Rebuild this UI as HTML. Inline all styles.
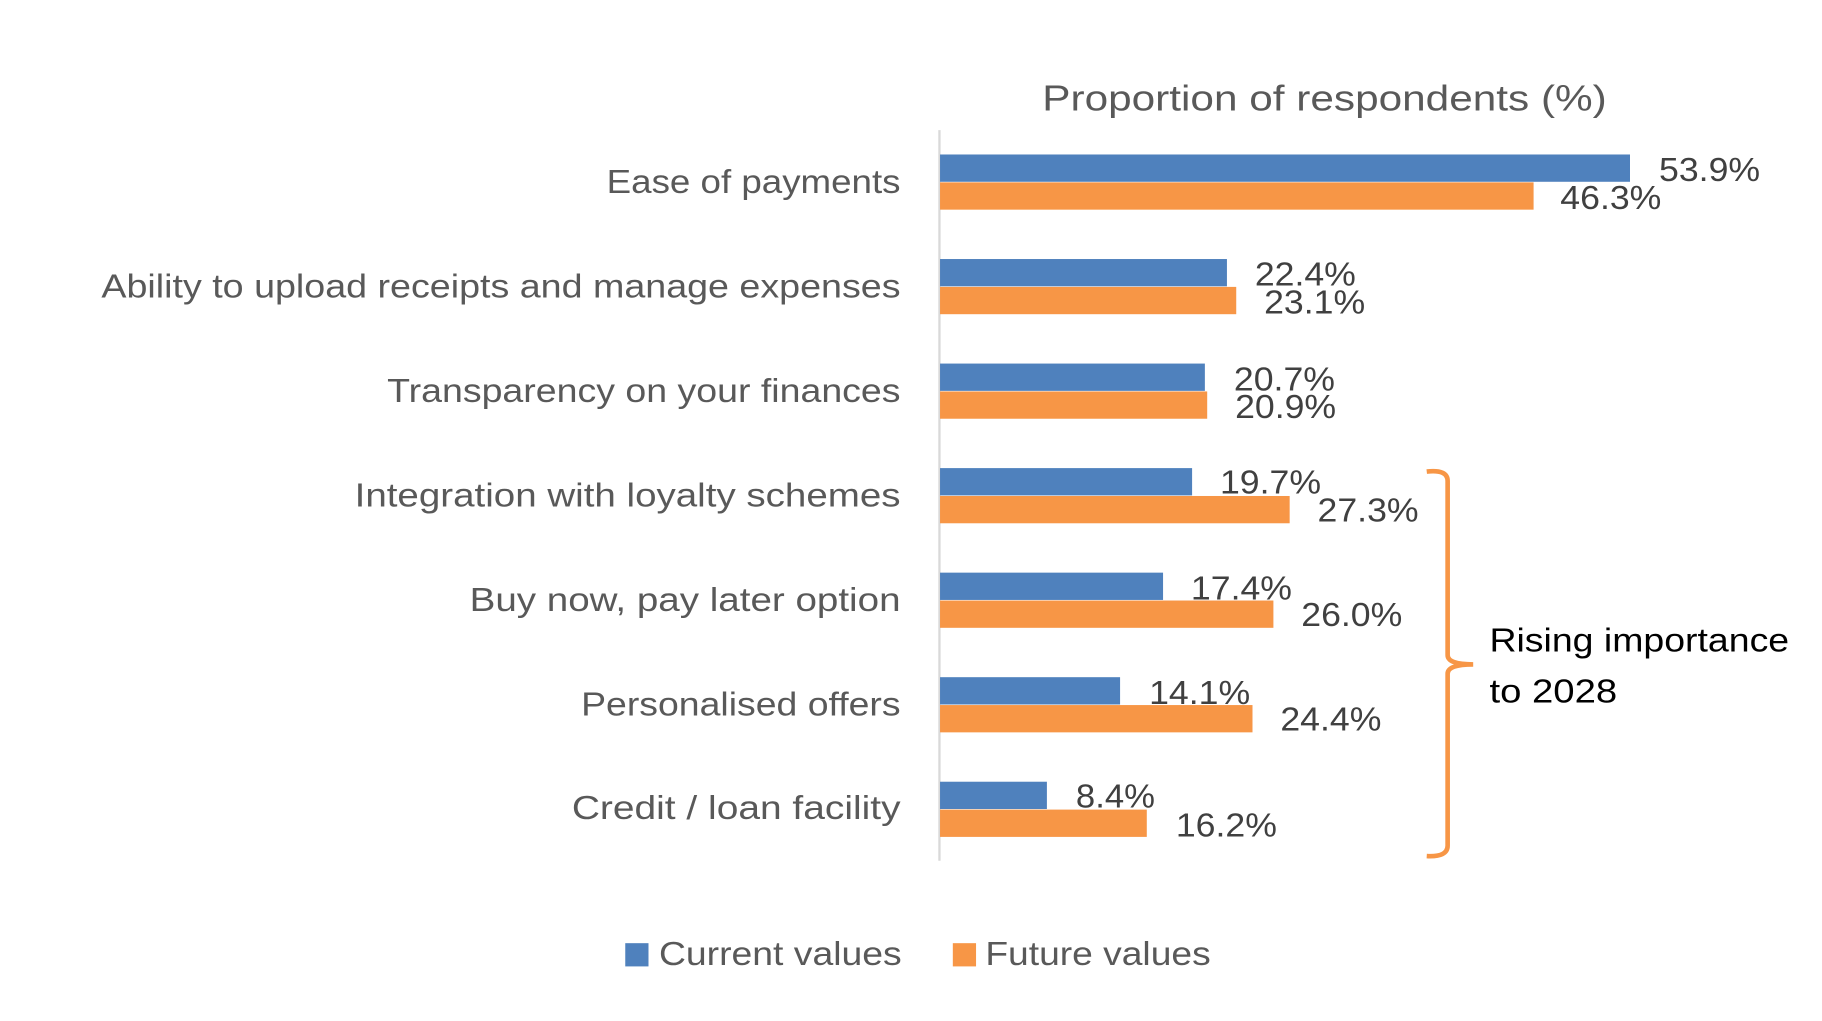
<!DOCTYPE html>
<html><head><meta charset="utf-8"><style>html,body{margin:0;padding:0;background:#fff}svg{display:block}</style></head>
<body>
<svg width="1822" height="1021" viewBox="0 0 1568 879" xmlns="http://www.w3.org/2000/svg" font-family="Liberation Sans, sans-serif">
<rect width="1568" height="879" fill="#fff"/>
<text x="1140" y="95" font-size="31" fill="#595959" text-anchor="middle" textLength="486" lengthAdjust="spacingAndGlyphs">Proportion of respondents (%)</text>
<line x1="808.5" y1="112" x2="808.5" y2="741" stroke="#D9D9D9" stroke-width="2"/>
<g fill="#4F81BD">
<rect x="809" y="133" width="594" height="23.5"/>
<rect x="809" y="223" width="247" height="23.5"/>
<rect x="809" y="313" width="228" height="23.5"/>
<rect x="809" y="403" width="217" height="23.5"/>
<rect x="809" y="493" width="192" height="23.5"/>
<rect x="809" y="583" width="155" height="23.5"/>
<rect x="809" y="673" width="92" height="23.5"/>
</g>
<g fill="#F79646">
<rect x="809" y="157" width="511" height="23.5"/>
<rect x="809" y="247" width="255" height="23.5"/>
<rect x="809" y="337" width="230" height="23.5"/>
<rect x="809" y="427" width="301" height="23.5"/>
<rect x="809" y="517" width="287" height="23.5"/>
<rect x="809" y="607" width="269" height="23.5"/>
<rect x="809" y="697" width="178" height="23.5"/>
</g>
<g font-size="29" fill="#595959" text-anchor="end">
<text x="775" y="166" textLength="253" lengthAdjust="spacingAndGlyphs">Ease of payments</text>
<text x="775" y="256" textLength="688" lengthAdjust="spacingAndGlyphs">Ability to upload receipts and manage expenses</text>
<text x="775" y="346" textLength="442" lengthAdjust="spacingAndGlyphs">Transparency on your finances</text>
<text x="775" y="436" textLength="470" lengthAdjust="spacingAndGlyphs">Integration with loyalty schemes</text>
<text x="775" y="526" textLength="371" lengthAdjust="spacingAndGlyphs">Buy now, pay later option</text>
<text x="775" y="616" textLength="275" lengthAdjust="spacingAndGlyphs">Personalised offers</text>
<text x="775" y="705" textLength="283" lengthAdjust="spacingAndGlyphs">Credit / loan facility</text>
</g>
<g font-size="29" fill="#404040">
<text x="1428" y="156" textLength="87" lengthAdjust="spacingAndGlyphs">53.9%</text>
<text x="1343" y="180" textLength="87" lengthAdjust="spacingAndGlyphs">46.3%</text>
<text x="1080" y="246" textLength="87" lengthAdjust="spacingAndGlyphs">22.4%</text>
<text x="1088" y="270" textLength="87" lengthAdjust="spacingAndGlyphs">23.1%</text>
<text x="1062" y="336" textLength="87" lengthAdjust="spacingAndGlyphs">20.7%</text>
<text x="1063" y="360" textLength="87" lengthAdjust="spacingAndGlyphs">20.9%</text>
<text x="1050" y="425" textLength="87" lengthAdjust="spacingAndGlyphs">19.7%</text>
<text x="1134" y="449" textLength="87" lengthAdjust="spacingAndGlyphs">27.3%</text>
<text x="1025" y="516" textLength="87" lengthAdjust="spacingAndGlyphs">17.4%</text>
<text x="1120" y="539" textLength="87" lengthAdjust="spacingAndGlyphs">26.0%</text>
<text x="989" y="606" textLength="87" lengthAdjust="spacingAndGlyphs">14.1%</text>
<text x="1102" y="629" textLength="87" lengthAdjust="spacingAndGlyphs">24.4%</text>
<text x="926" y="695" textLength="68" lengthAdjust="spacingAndGlyphs">8.4%</text>
<text x="1012" y="720" textLength="87" lengthAdjust="spacingAndGlyphs">16.2%</text>
</g>
<path d="M1228 406 Q1246 404 1246 414 L1246 564 Q1246 572 1268 572 Q1246 572 1246 580 L1246 728 Q1246 738 1228 737" fill="none" stroke="#F79646" stroke-width="4"/>
<g font-size="29" fill="#000">
<text x="1282" y="561" textLength="258" lengthAdjust="spacingAndGlyphs">Rising importance</text>
<text x="1282" y="605" textLength="110" lengthAdjust="spacingAndGlyphs">to 2028</text>
</g>
<rect x="538" y="812" width="20" height="20" fill="#4F81BD"/>
<text x="567" y="831" font-size="29" fill="#595959" textLength="209" lengthAdjust="spacingAndGlyphs">Current values</text>
<rect x="820" y="812" width="20" height="20" fill="#F79646"/>
<text x="848" y="831" font-size="29" fill="#595959" textLength="194" lengthAdjust="spacingAndGlyphs">Future values</text>
</svg>
</body></html>
